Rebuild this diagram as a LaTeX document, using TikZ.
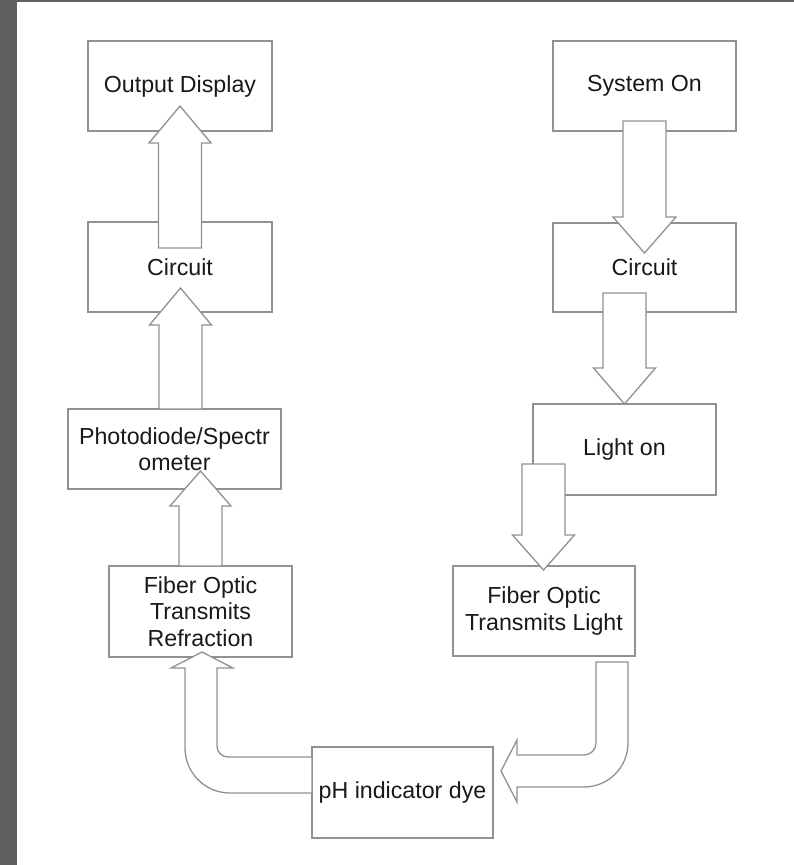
\documentclass[tikz,border=0pt]{standalone}
\usepackage{fontspec}
\setmainfont{Liberation Sans}
\definecolor{linec}{RGB}{145,145,145}
\definecolor{textc}{RGB}{25,25,25}
\definecolor{framec}{RGB}{96,96,96}
\newcommand{\BlkArrow}[6]{% cx, tail y, tip y, shaft half width, head half width, head base y
  \draw[arrowshape] ({#1-#4},{-#2}) -- ({#1+#4},{-#2}) -- ({#1+#4},{-#6}) -- ({#1+#5},{-#6})
    -- ({#1},{-#3}) -- ({#1-#5},{-#6}) -- ({#1-#4},{-#6}) -- cycle;}
\begin{document}
\begin{tikzpicture}[x=1pt,y=1pt,
  box/.style={draw=linec, line width=1.3pt, fill=white, inner sep=0pt, align=center,
    text=textc, font=\fontsize{23.2}{26.5}\selectfont},
  arrowshape/.style={draw=linec, line width=1.3pt, fill=white, line join=miter}]
\useasboundingbox (0,0) rectangle (794,-865);
\fill[white] (0,0) rectangle (794,-865);
\fill[framec] (0,0) rectangle (17,-865);
\fill[framec] (0,0) rectangle (794,-2);

% boxes
\node[box, minimum width=184pt, minimum height=90pt] (out)   at (180,-86)     {Output Display};
\node[box, minimum width=183pt, minimum height=90pt] (sys)   at (644.5,-86)   {System On};
\node[box, minimum width=184pt, minimum height=90pt] (cirL)  at (180,-267)    {Circuit};
\node[box, minimum width=183pt, minimum height=89pt] (cirR)  at (644.5,-267.5){Circuit};
\node[box, minimum width=213pt, minimum height=80pt] (photo) at (174.5,-449)  {Photodiode/Spectr\\ometer};
\node[box, minimum width=183pt, minimum height=91pt] (light) at (624.5,-449.5){Light on};
\node[box, minimum width=183pt, minimum height=91pt] (fibR)  at (200.5,-611.5){Fiber Optic\\Transmits\\Refraction};
\node[box, minimum width=182pt, minimum height=90pt] (fibL)  at (544,-611)    {Fiber Optic\\Transmits Light};
\node[box, minimum width=181pt, minimum height=91pt] (ph)    at (402.5,-792.5){pH indicator dye};

% straight block arrows
\BlkArrow{644.5}{121}{253}{21.5}{31.5}{217}  % sys -> cirR
\BlkArrow{624.5}{293}{404}{21.5}{31}{368}    % cirR -> light
\BlkArrow{543.5}{464}{570}{21.5}{31}{535}    % light -> fibL
\BlkArrow{180}{248}{106}{21.5}{31}{143}      % cirL -> out
\BlkArrow{180.5}{409}{288}{21.5}{31}{325}    % photo -> cirL
\BlkArrow{200.5}{566}{471}{21.5}{30.5}{506}  % fibR -> photo

% bent arrow fibL -> ph
\draw[arrowshape] (596,-662) -- (628,-662) -- (628,-743)
  arc[start angle=0, end angle=-90, radius=44pt] -- (517,-787) -- (517,-802)
  -- (501,-771) -- (517,-740) -- (517,-755) -- (584,-755)
  arc[start angle=-90, end angle=0, radius=12pt] -- cycle;

% bent arrow ph -> fibR
\draw[arrowshape] (312,-757) -- (228,-757)
  arc[start angle=-90, end angle=-180, radius=11pt] -- (217,-668) -- (233,-668)
  -- (202,-652) -- (171,-668) -- (185,-668) -- (185,-748)
  arc[start angle=180, end angle=270, radius=45pt] -- (312,-793) -- cycle;
\end{tikzpicture}
\end{document}
